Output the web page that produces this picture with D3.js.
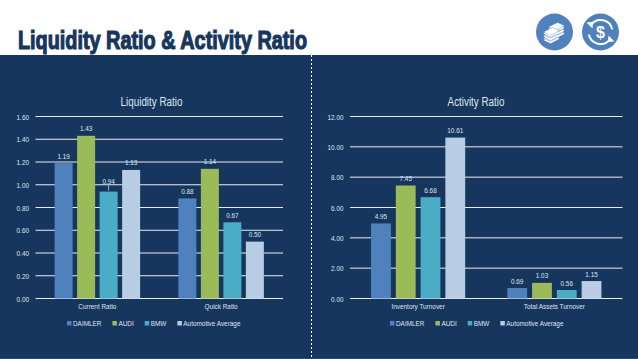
<!DOCTYPE html>
<html lang="en">
<head>
<meta charset="utf-8">
<script src="https://d3js.org/d3.v7.min.js"></script>
<style>
  html, body { margin: 0; padding: 0; background: #fff; }
  svg { display: block; }
  text { font-family: "Liberation Sans", Arial, sans-serif; }
</style>
</head>
<body>
<div id="chart"></div>
<script>
const seriesNames = ['DAIMLER', 'AUDI', 'BMW', 'Automotive Average'];
const seriesColors = ['#4f81bd', '#9bbb59', '#4bacc6', '#b8cce4'];

const liquidityCategories = ['Current Ratio', 'Quick Ratio'];
const liquidityValues = [
    [1.19, 0.88],
    [1.43, 1.14],
    [0.94, 0.67],
    [1.13, 0.50]
];
const liquidityTicks = [0, 0.2, 0.4, 0.6, 0.8, 1.0, 1.2, 1.4, 1.6];

const activityCategories = ['Inventory Turnover', 'Total Assets Turnover'];
const activityValues = [
    [4.95, 0.69],
    [7.45, 1.03],
    [6.68, 0.56],
    [10.61, 1.15]
];
const activityTicks = [0, 2, 4, 6, 8, 10, 12];

const width = 638, height = 359;
const navy = '#17365d';
const textColor = '#dce6f2';
const smallFont = 7.8;

const svg = d3.select('#chart').append('svg')
    .attr('width', width)
    .attr('height', height);

// no narrow font installed, so squeeze the glyphs sideways
function narrow(sel) {
    sel.each(function () {
        d3.select(this)
            .attr('textLength', this.getComputedTextLength() * 0.82)
            .attr('lengthAdjust', 'spacingAndGlyphs');
    });
}

svg.append('rect').attr('width', width).attr('height', height).attr('fill', '#fff');
svg.append('rect').attr('y', 55).attr('width', width).attr('height', 304).attr('fill', navy);
svg.append('rect').attr('y', 358).attr('width', width).attr('height', 1).attr('fill', '#2a4a73');

svg.append('text')
    .attr('x', 18).attr('y', 48.5)
    .attr('textLength', 289).attr('lengthAdjust', 'spacingAndGlyphs')
    .attr('font-size', 26).attr('font-weight', 700)
    .attr('fill', navy).attr('stroke', navy).attr('stroke-width', 1.2)
    .text('Liquidity Ratio & Activity Ratio');

svg.append('line')
    .attr('x1', 311.5).attr('x2', 311.5).attr('y1', 55).attr('y2', 358)
    .attr('stroke', '#fff').attr('stroke-width', 1).attr('stroke-dasharray', '2 2');

function drawChart(opts) {
    const { title, categories, values, ticks, yMax, left, right, titleX, legendX, leader } = opts;
    const top = 116.5, bottom = 298.5;

    const x0 = d3.scaleBand().domain(categories).range([left, right]);
    const x1 = d3.scaleBand().domain(seriesNames)
        .range([0, x0.bandwidth()]).paddingInner(0.2).paddingOuter(0.85);
    const y = d3.scaleLinear().domain([0, yMax]).range([bottom, top]);

    const g = svg.append('g');

    const yAxis = g.append('g')
        .attr('transform', `translate(${left},0)`)
        .call(d3.axisLeft(y).tickValues(ticks).tickSize(0).tickPadding(6.5).tickFormat(d3.format('.2f')));
    yAxis.select('.domain').remove();
    yAxis.selectAll('text')
        .attr('fill', textColor).attr('font-size', smallFont)
        .call(narrow);

    g.append('g').selectAll('line').data(ticks).join('line')
        .attr('x1', left).attr('x2', right)
        .attr('y1', d => y(d)).attr('y2', d => y(d))
        .attr('stroke', '#e8edf4').attr('stroke-width', 1);

    seriesNames.forEach((name, s) => {
        const group = g.append('g');
        const cx = i => x0(categories[i]) + x1(name) + x1.bandwidth() / 2;
        const hasLeader = i => leader && leader[0] === s && leader[1] === i;
        group.selectAll('rect').data(values[s]).join('rect')
            .attr('x', (d, i) => x0(categories[i]) + x1(name))
            .attr('y', d => y(d))
            .attr('width', x1.bandwidth())
            .attr('height', d => y(0) - y(d))
            .attr('fill', seriesColors[s]);
        group.selectAll('text').data(values[s]).join('text')
            .attr('x', (d, i) => cx(i))
            .attr('y', (d, i) => y(d) - (hasLeader(i) ? 7.5 : 4.5))
            .attr('text-anchor', 'middle')
            .attr('fill', textColor).attr('font-size', smallFont)
            .text(d => d.toFixed(2))
            .call(narrow);
        // one label in the left chart was dragged up and has a leader line
        values[s].forEach((d, i) => {
            if (hasLeader(i)) {
                group.append('line')
                    .attr('x1', cx(i)).attr('x2', cx(i))
                    .attr('y1', y(d) - 6).attr('y2', y(d) - 1)
                    .attr('stroke', textColor).attr('stroke-width', 0.7);
            }
        });
    });

    const xAxis = g.append('g')
        .attr('transform', `translate(0,${bottom})`)
        .call(d3.axisBottom(x0).tickSize(0).tickPadding(5));
    xAxis.select('.domain').remove();
    xAxis.selectAll('text')
        .attr('fill', textColor).attr('font-size', smallFont)
        .call(narrow);

    svg.append('text')
        .attr('x', titleX).attr('y', 105.5)
        .attr('text-anchor', 'middle')
        .attr('fill', textColor).attr('font-size', 12)
        .text(title)
        .call(narrow);

    const legend = g.append('g').attr('transform', `translate(${legendX},324.5)`);
    let lx = 0;
    seriesNames.forEach((name, s) => {
        legend.append('rect')
            .attr('x', lx).attr('y', -3.5).attr('width', 4.5).attr('height', 4.5)
            .attr('fill', seriesColors[s]);
        const t = legend.append('text')
            .attr('x', lx + 6).attr('y', 1.5)
            .attr('fill', textColor).attr('font-size', smallFont)
            .text(name)
            .call(narrow);
        lx += 6 + +t.attr('textLength') + 11;
    });
}

drawChart({
    title: 'Liquidity Ratio', categories: liquidityCategories, values: liquidityValues,
    ticks: liquidityTicks, yMax: 1.6, left: 35.5, right: 283, titleX: 151.5, legendX: 67,
    leader: [2, 0]
});
drawChart({
    title: 'Activity Ratio', categories: activityCategories, values: activityValues,
    ticks: activityTicks, yMax: 12, left: 350, right: 622.5, titleX: 476, legendX: 390
});

// header icons
const iconBlue = '#4f81bd';
const money = svg.append('g').attr('transform', 'translate(554.5,32)');
money.append('circle').attr('r', 18.5).attr('fill', iconBlue);
[[-3, -6], [-8, -1]].forEach(([dx, dy]) => {
    // striped side of the stack, then the top note
    for (let i = 5; i >= 1; i--) {
        money.append('path')
            .attr('d', `M${dx - 3},${dy + 1 + i * 1.6}l7,3.4l9,-4.6l-7,-3.4z`)
            .attr('fill', i % 2 ? '#fff' : '#a9c2e0');
    }
    money.append('path')
        .attr('d', `M${dx - 3},${dy + 1}l7,3.4l9,-4.6l-7,-3.4z`)
        .attr('fill', '#fff').attr('stroke', iconBlue).attr('stroke-width', 0.4);
});

const exchange = svg.append('g').attr('transform', 'translate(600.5,32)');
exchange.append('circle').attr('r', 18.5).attr('fill', iconBlue);
const arc = d3.arc().innerRadius(11).outerRadius(13);
exchange.append('path').attr('d', arc({ startAngle: -0.9, endAngle: 1.35 })).attr('fill', '#fff');
exchange.append('path').attr('d', arc({ startAngle: 2.25, endAngle: 4.5 })).attr('fill', '#fff');
exchange.append('path').attr('d', 'M-14,-9.5l6.5,-0.5l-0.5,6.5z').attr('fill', '#fff');
exchange.append('path').attr('d', 'M14,9.5l-6.5,0.5l0.5,-6.5z').attr('fill', '#fff');
exchange.append('text')
    .attr('text-anchor', 'middle').attr('y', 5.5)
    .attr('font-size', 16).attr('font-weight', 700).attr('fill', '#fff')
    .text('$');
</script>
</body>
</html>
